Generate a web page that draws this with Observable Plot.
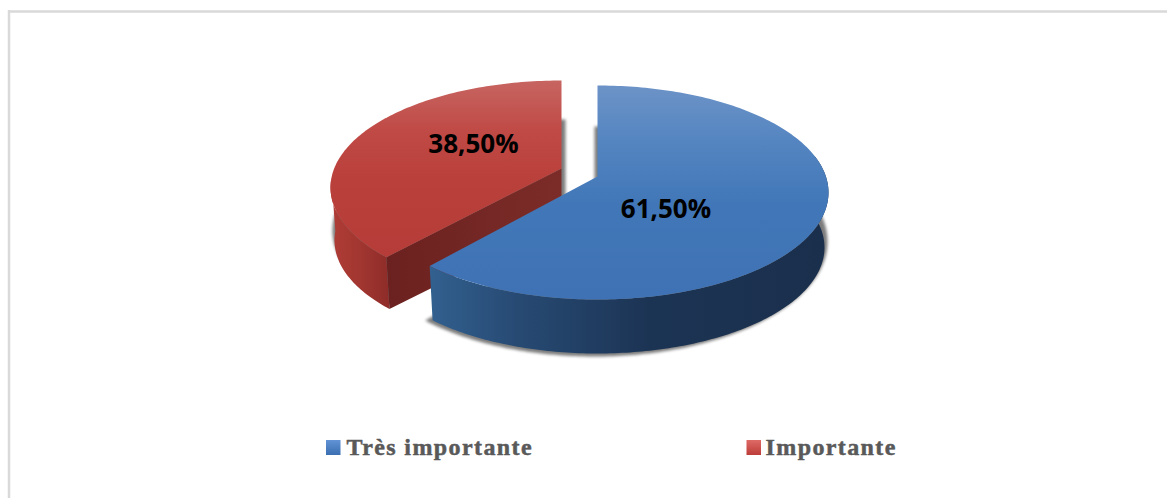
<!DOCTYPE html>
<html><head><meta charset="utf-8">
<style>html,body{margin:0;padding:0;background:#fff}svg{display:block}
g[aria-description="legend"]{letter-spacing:1.4px}</style>
<script src="https://cdn.jsdelivr.net/npm/d3@7"></script>
<script src="https://cdn.jsdelivr.net/npm/@observablehq/plot@0.6"></script>
</head><body><div id="chart"></div>
<script>
const categories = ["Très importante", "Importante"];
const shares = [61.5, 38.5];
const shareLabels = ["61,50%", "38,50%"];

// Projection of each exploded slice
const blue = {cx:597, cy:192, rx:231, ry:107, apexY:176, depthCy:247, depthRx:227, depthRy:106};
const red  = {cx:561, cy:187, rx:231, ry:107, apexY:168, depthCy:240, depthRx:227, depthRy:105};
const skewBlue = 5.2, skewRed = 7.9;
const endBlue = shares[0] * 3.6;
const bluePts = [0, endBlue + skewBlue];
const redPts = [endBlue + skewRed, 360];

const pt = (e, t, cy = e.cy, rx = e.rx, ry = e.ry) => {
  const a = t * Math.PI / 180;
  return {x: e.cx + rx * Math.sin(a), y: cy - ry * Math.cos(a)};
};
const arc = (e, a, b, cy, rx, ry) => {
  const n = Math.ceil(Math.abs(b - a));
  return d3.range(n + 1).map(i => pt(e, a + (b - a) * i / n, cy, rx, ry));
};
const sector = (e, a, b, cy, rx, ry, apexY) =>
  [...arc(e, a, b, cy, rx, ry), {x: e.cx, y: apexY}];
const side = (e, a, b) =>
  [...arc(e, a, b), ...arc(e, b, a, e.depthCy, e.depthRx, e.depthRy)];

const face = (data, fill, extra = {}) =>
  Plot.line(data, {x: "x", y: "y", fill, stroke: "none", curve: "linear-closed", ...extra});

const redCorner = pt(red, redPts[0]);
const redCornerLow = pt(red, redPts[0], red.depthCy, red.depthRx, red.depthRy);
const redInner = [redCorner, {x: red.cx, y: red.apexY}, {x: red.cx, y: red.apexY + 55}, redCornerLow];

const defs = () => {
  const d = document.createElementNS("http://www.w3.org/2000/svg", "defs");
  const lin = (id, vertical, stops) =>
    `<linearGradient id="${id}" x1="0" y1="0" x2="${vertical ? 0 : 1}" y2="${vertical ? 1 : 0}">` +
    stops.map(([o, c]) => `<stop offset="${o}" stop-color="${c}"/>`).join("") + `</linearGradient>`;
  d.innerHTML =
    lin("blueTop", true, [[0, "#6c93c7"], [0.28, "#5384c0"], [0.55, "#4177b8"], [1, "#3f72b4"]]) +
    lin("redTop", true, [[0, "#c76561"], [0.28, "#c04a46"], [0.55, "#ba403b"], [1, "#b53c38"]]) +
    lin("blueSide", false, [[0, "#32608f"], [0.22, "#274a73"], [0.55, "#1c3454"], [1, "#1a2f4c"]]) +
    lin("redSide", false, [[0, "#b03c36"], [0.5, "#a23630"], [1, "#8e2c29"]]) +
    lin("redInner", false, [[0, "#6b211f"], [0.6, "#752825"], [1, "#7c2c28"]]) +
    lin("blueKey", true, [[0, "#6193d6"], [1, "#3b6fb2"]]) +
    lin("redKey", true, [[0, "#de6a66"], [1, "#bd3d39"]]);
  return d;
};

const blueShadowShape = {cx: 594, cy: 241};
const redShadowShape = {cx: 565, cy: 230};

const plot = Plot.plot({
  width: 1167, height: 498,
  margin: 0,
  x: {type: "identity", axis: null},
  y: {type: "identity", axis: null},
  style: {background: "#fff"},
  marks: [
    defs,
    Plot.ruleY([11], {x1: 8, x2: 1167, stroke: "#d9d9d9", strokeWidth: 2.5}),
    Plot.ruleX([8.5], {y1: 10, y2: 498, stroke: "#d9d9d9", strokeWidth: 2.5}),

    face(sector(redShadowShape, ...redPts, 230, 233, 111, 225), "#444", {imageFilter: "blur(1.5px)", fillOpacity: 0.7}),
    face(side(red, redPts[0], 275), "url(#redSide)"),
    face(redInner, "url(#redInner)"),
    face(sector(red, ...redPts, red.cy, red.rx, red.ry, red.apexY), "url(#redTop)"),

    face(sector(blueShadowShape, ...bluePts, 241, 233, 115, 225), "#444", {imageFilter: "blur(1.5px)", fillOpacity: 0.7}),
    face(side(blue, 70, bluePts[1]), "url(#blueSide)"),
    face(sector(blue, ...bluePts, blue.cy, blue.rx, blue.ry, blue.apexY), "url(#blueTop)"),

    Plot.text([0, 1], {
      x: i => [665.5, 473][i],
      y: i => [209, 144][i],
      text: i => shareLabels[i],
      fontFamily: "Open Sans", fontWeight: 700, fontSize: 26, fill: "#000", textAnchor: "middle"
    }),

    Plot.rect([0], {x1: 326, x2: 340.5, y1: 440, y2: 455, fill: "url(#blueKey)"}),
    Plot.rect([1], {x1: 746.5, x2: 761, y1: 440, y2: 455, fill: "url(#redKey)"}),
    Plot.text([0, 1], {
      ariaDescription: "legend",
      x: i => [346, 765][i], y: 447,
      text: i => categories[i],
      textAnchor: "start",
      fontFamily: "Liberation Serif", fontWeight: 700, fontSize: 24, fill: "#595959",
      stroke: "#595959", strokeWidth: 0.5
    })
  ]
});
document.getElementById("chart").append(plot);
</script></body></html>
